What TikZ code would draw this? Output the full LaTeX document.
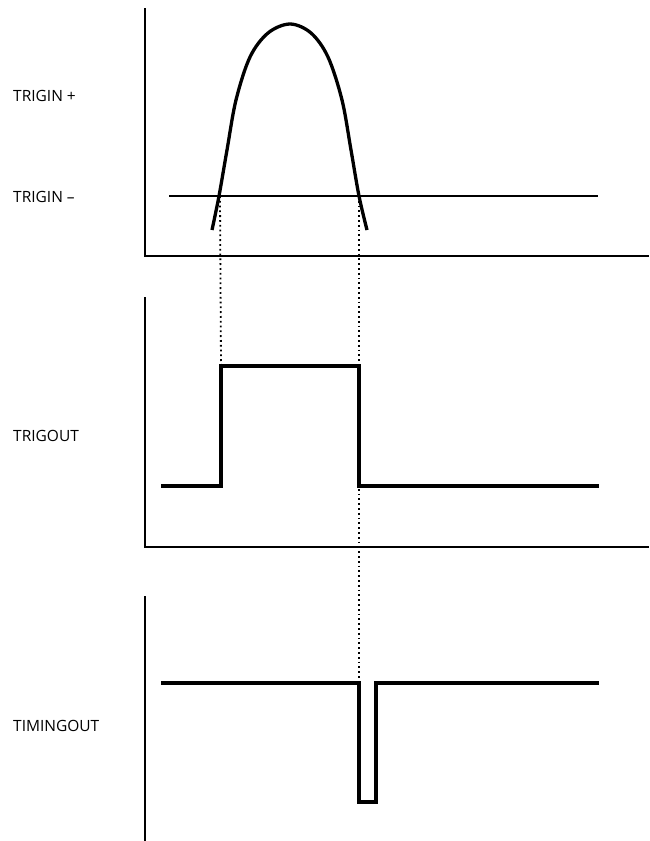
\documentclass[tikz,border=0pt]{standalone}
\usepackage{fontspec}
\setmainfont{Open Sans}
\begin{document}
\begin{tikzpicture}[x=1pt,y=-1pt,
  axis/.style={line width=2.2pt},
  signal/.style={line width=3.3pt},
  refline/.style={line width=2pt},
  guide/.style={line width=1.8pt, dash pattern=on 1.8pt off 3pt},
  lbl/.style={anchor=west, inner sep=0pt, font=\fontsize{15.5}{19}\selectfont}]
\useasboundingbox (0,0) rectangle (649,841);
% ---------- top panel ----------
\draw[axis] (145,8) -- (145,256) -- (649,256);
\draw[refline] (169,196) -- (598,196);
\draw[signal, line join=round] plot[smooth, tension=0.55] coordinates
  {(212,230) (219,196) (227,150) (236,100) (250,57) (268,33) (290,24) (311,33) (328,57) (342,100) (351,150) (359,196) (367,230)};
\node[lbl] (tip) at (13,96) {TRIGIN +};
\node[lbl] (tim) at (13,197) {TRIGIN –};
\coordinate (c1) at (220,196);
\coordinate (c2) at (359,196);
% ---------- middle panel ----------
\draw[axis] (145,297) -- (145,547) -- (649,547);
\coordinate (r1) at (221,366);
\coordinate (f1) at (359,366);
\draw[signal] (161,486) -- (221,486) -- (r1) -- (f1) -- (359,486) -- (599,486);
\node[lbl] (to) at (13,436) {TRIGOUT};
% ---------- bottom panel ----------
\draw[axis] (145,596) -- (145,841);
\coordinate (f2) at (359,683);
\draw[signal] (161,683) -- (f2) -- (359,802) -- (376,802) -- (376,683) -- (599,683);
\node[lbl] (tmo) at (13,726) {TIMINGOUT};
% ---------- guides ----------
\draw[guide] (c1) -- (r1);
\draw[guide] (c2) -- (f2);
\end{tikzpicture}
\end{document}
